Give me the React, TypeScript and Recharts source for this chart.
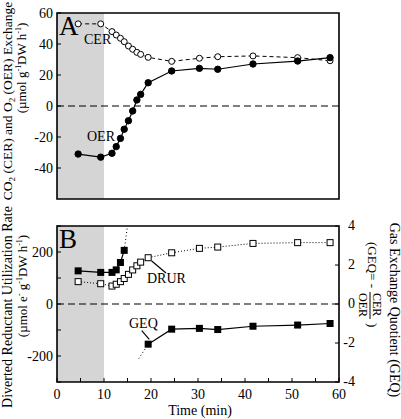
import React from "react";
import { LineChart, Line, XAxis, YAxis, ReferenceArea, ReferenceLine } from "recharts";

const serif = "Liberation Serif";

// sampling times (min), shared by CER / OER / DRUR
const sampleTimes = [4.5, 9.3, 11.7, 12.6, 13.5, 14.3, 15.2, 16.1, 17.0, 17.8, 19.4, 24.4, 30.3, 34.2, 41.7, 51.2, 58.1];
const cerValues = [53, 53, 48, 45.8, 43.7, 41.5, 38.7, 36.6, 34.6, 33.3, 31.4, 28.8, 30.8, 31.8, 32.3, 31.2, 29.2];
const oerValues = [-31, -33, -30.5, -26.2, -20.9, -15, -9.5, -3.2, 3.9, 7.5, 15, 22.6, 24.3, 23.7, 27.1, 29, 31.2];
const drurValues = [86, 78, 69, 76, 86, 98, 114, 131, 147, 161, 178, 197, 214, 219, 233, 236, 236];

// GEQ, split by the asymptote
const geqEarlyTimes = [4.5, 9.3, 11.7, 12.6, 13.5, 14.3];
const geqEarly = [1.7, 1.62, 1.62, 1.75, 2.13, 2.75];
const geqLateTimes = [19.4, 24.4, 30.3, 34.2, 41.7, 51.2, 58.1];
const geqLate = [-2.06, -1.29, -1.25, -1.31, -1.14, -1.08, -1.0];
const geqRiseTimes = [14.3, 15.0];
const geqRise = [2.75, 4];
const geqFallTimes = [17.4, 19.4];
const geqFall = [-2.8, -2.06];

const timeTicks = [0, 5, 10, 15, 20, 25, 30, 35, 40, 45, 50, 55, 60];
const exchangeTicks = [-60, -50, -40, -30, -20, -10, 0, 10, 20, 30, 40, 50, 60];
const drurTicks = [-300, -200, -100, 0, 100, 200, 300];
const geqTicks = [-4, -3, -2, -1, 0, 1, 2, 3, 4];

const zip = (ts: number[], vs: number[]) => ts.map((t, i) => ({ t, v: vs[i] }));

const cerData = zip(sampleTimes, cerValues);
const oerData = zip(sampleTimes, oerValues);
const drurData = zip(sampleTimes, drurValues);
const geqEarlyData = zip(geqEarlyTimes, geqEarly);
const geqLateData = zip(geqLateTimes, geqLate);
const geqRiseData = zip(geqRiseTimes, geqRise);
const geqFallData = zip(geqFallTimes, geqFall);

const OpenCircle = (p: any) => (
  <circle key={p.key} cx={p.cx} cy={p.cy} r={3} fill="#fff" stroke="#000" strokeWidth={1} />
);
const FilledCircle = (p: any) => (
  <circle key={p.key} cx={p.cx} cy={p.cy} r={3.2} fill="#000" stroke="#000" />
);
const OpenSquare = (p: any) => (
  <rect key={p.key} x={p.cx - 3} y={p.cy - 3} width={6} height={6} fill="#fff" stroke="#000" strokeWidth={1} />
);
const FilledSquare = (p: any) => (
  <rect key={p.key} x={p.cx - 3.5} y={p.cy - 3.5} width={7} height={7} fill="#000" />
);

// tick label renderers (serif, plain black)
const leftTick = (step: number, max: number) => (p: any) => {
  const v = p.payload.value;
  if (v % step !== 0 || Math.abs(v) > max) return <g />;
  return (
    <text x={p.x} y={p.y} dy={5} textAnchor="end" fill="#000" fontFamily={serif} fontSize={14}>{v}</text>
  );
};

const BottomTick = (p: any) => {
  const v = p.payload.value;
  if (v % 10 !== 0) return <g />;
  return (
    <text x={p.x} y={p.y} textAnchor="middle" fill="#000" fontFamily={serif} fontSize={14}>{v}</text>
  );
};

// digits line up, minus sign hangs to the left
const RightTick = (p: any) => {
  const v = p.payload.value;
  if (v % 2 !== 0) return <g />;
  return (
    <g fontFamily={serif} fontSize={14}>
      <text x={p.x + 8} y={p.y} dy={4} textAnchor="start" fill="#000">{Math.abs(v)}</text>
      {v < 0 && <text x={p.x + 8} y={p.y} dy={4} textAnchor="end" fill="#000">-</text>}
    </g>
  );
};

const NoTick = () => <g />;

export default function App() {
  return (
    <div style={{ position: "absolute", left: 0, top: 0, width: 401, height: 419, background: "#fff", fontFamily: serif }}>
      {/* Panel A */}
      <div style={{ position: "absolute", left: 0, top: 0 }}>
        <LineChart width={401} height={205} margin={{ top: 13, right: 62, bottom: 6, left: 12 }}>
          <XAxis dataKey="t" type="number" domain={[0, 60]} ticks={timeTicks} height={0}
            tickSize={-4} tickLine={{ stroke: "#000" }} axisLine={false} tick={NoTick} />
          <YAxis type="number" domain={[-60, 60]} ticks={exchangeTicks} width={45}
            tickSize={-4} tickMargin={8} tickLine={{ stroke: "#000" }} axisLine={false}
            tick={leftTick(20, 60)} />
          <ReferenceArea x1={0} x2={10} y1={-60} y2={60} fill="#d5d5d5" fillOpacity={1} stroke="none" />
          <ReferenceLine y={0} stroke="#000" strokeDasharray="7 4" strokeWidth={1.2} />
          <Line data={cerData} dataKey="v" stroke="#000" strokeWidth={1} strokeDasharray="4 3"
            dot={OpenCircle} isAnimationActive={false} />
          <Line data={oerData} dataKey="v" stroke="#000" strokeWidth={1.2}
            dot={FilledCircle} isAnimationActive={false} />
          <ReferenceArea x1={0} x2={60} y1={-60} y2={60} fill="none" stroke="#000" strokeWidth={1.6} />
        </LineChart>
      </div>

      {/* Panel B */}
      <div style={{ position: "absolute", left: 0, top: 200 }}>
        <LineChart width={401} height={219} margin={{ top: 26, right: 0, bottom: 7, left: 12 }}>
          <XAxis dataKey="t" type="number" domain={[0, 60]} ticks={timeTicks} height={30}
            tickSize={-4} tickMargin={21} tickLine={{ stroke: "#000" }} axisLine={false}
            tick={BottomTick} />
          <XAxis xAxisId="top" orientation="top" dataKey="t" type="number" domain={[0, 60]} ticks={timeTicks}
            height={0} tickSize={-4} tickLine={{ stroke: "#000" }} axisLine={false} tick={NoTick} />
          <YAxis type="number" domain={[-300, 300]} ticks={drurTicks} width={45}
            tickSize={-4} tickMargin={8} tickLine={{ stroke: "#000" }} axisLine={false}
            tick={leftTick(200, 200)} />
          <YAxis yAxisId="r" orientation="right" type="number" domain={[-4, 4]} ticks={geqTicks} width={62}
            tickSize={-4} tickMargin={5} tickLine={{ stroke: "#000" }} axisLine={false} tick={RightTick} />
          <ReferenceArea x1={0} x2={10} y1={-300} y2={300} fill="#d5d5d5" fillOpacity={1} stroke="none" />
          <ReferenceLine y={0} stroke="#000" strokeDasharray="7 4" strokeWidth={1.2} />
          <Line data={drurData} dataKey="v" stroke="#000" strokeWidth={1} strokeDasharray="1 2"
            dot={OpenSquare} isAnimationActive={false} />
          <Line yAxisId="r" data={geqRiseData} dataKey="v" stroke="#000" strokeWidth={1} strokeDasharray="1 2.5"
            dot={false} isAnimationActive={false} />
          <Line yAxisId="r" data={geqFallData} dataKey="v" stroke="#000" strokeWidth={1} strokeDasharray="1 2.5"
            dot={false} isAnimationActive={false} />
          <Line yAxisId="r" data={geqEarlyData} dataKey="v" stroke="#000" strokeWidth={1.2}
            dot={FilledSquare} isAnimationActive={false} />
          <Line yAxisId="r" data={geqLateData} dataKey="v" stroke="#000" strokeWidth={1.2}
            dot={FilledSquare} isAnimationActive={false} />
          <ReferenceArea x1={0} x2={60} y1={-300} y2={300} fill="none" stroke="#000" strokeWidth={1.6} />
        </LineChart>
      </div>

      {/* labels */}
      <svg width={401} height={419} style={{ position: "absolute", left: 0, top: 0, pointerEvents: "none" }}
        fontFamily={serif} fill="#000">
        <text x={59} y={35} fontSize={27}>A</text>
        <text x={59} y={248} fontSize={27}>B</text>
        <text x={84} y={44} fontSize={14}>CER</text>
        <text x={87} y={141} fontSize={14}>OER</text>
        <text x={147} y={283} fontSize={14}>DRUR</text>
        <text x={129} y={328} fontSize={14}>GEQ</text>
        <line x1={151.7} y1={261} x2={166} y2={273} stroke="#000" strokeWidth={1.2} />
        <line x1={141.7} y1={330.7} x2={149.3} y2={339.3} stroke="#000" strokeWidth={1.2} />

        <text transform="translate(12,101) rotate(-90)" textAnchor="middle" fontSize={13.5}>
          CO<tspan fontSize={9} dy={3}>2</tspan><tspan dy={-3}> (CER) and O</tspan>
          <tspan fontSize={9} dy={3}>2</tspan><tspan dy={-3}> (OER) Exchange</tspan>
        </text>
        <text transform="translate(26,68) rotate(-90)" textAnchor="middle" fontSize={13}>
          (µmol g<tspan fontSize={8} dy={-5}>-1</tspan><tspan dy={5}>DW h</tspan>
          <tspan fontSize={8} dy={-5}>-1</tspan><tspan dy={5}>)</tspan>
        </text>

        <text transform="translate(12,307) rotate(-90)" textAnchor="middle" fontSize={14}>
          Diverted Reductant Utilization Rate
        </text>
        <text transform="translate(27,286) rotate(-90)" textAnchor="middle" fontSize={13}>
          (µmol e<tspan fontSize={8} dy={-5}>-</tspan><tspan dy={5}> g</tspan>
          <tspan fontSize={8} dy={-5}>-1</tspan><tspan dy={5}>DW h</tspan>
          <tspan fontSize={8} dy={-5}>-1</tspan><tspan dy={5}>)</tspan>
        </text>

        <text transform="translate(390,310) rotate(90)" textAnchor="middle" fontSize={14}>
          Gas Exchange Quotient (GEQ)
        </text>
        <g transform="translate(368,242) rotate(90)" fontSize={13}>
          <text x={0} y={0}>(GEQ= -</text>
          <text x={51} y={-5} fontSize={12}>CER</text>
          <line x1={50} y1={-2} x2={77} y2={-2} stroke="#000" strokeWidth={1} />
          <text x={51} y={9} fontSize={12}>OER</text>
          <text x={81} y={0}>)</text>
        </g>

        <text x={200} y={415} textAnchor="middle" fontSize={14}>Time (min)</text>
      </svg>
    </div>
  );
}
